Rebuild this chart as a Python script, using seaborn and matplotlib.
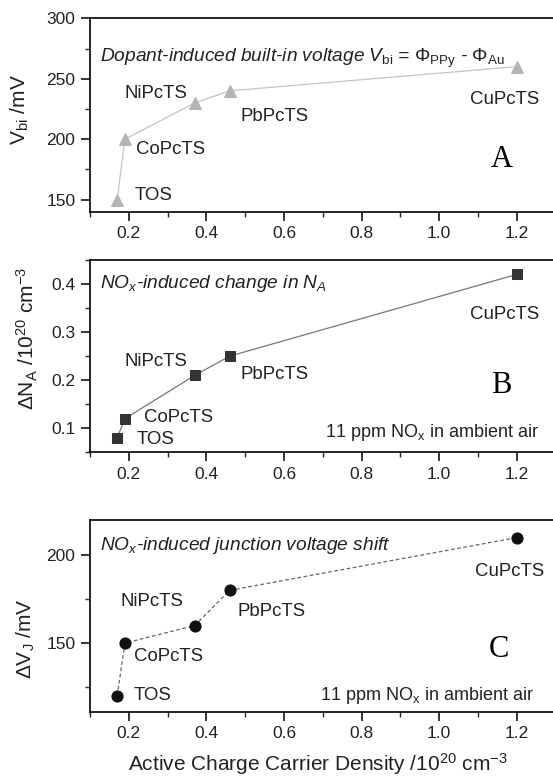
import matplotlib
matplotlib.use("Agg")
import matplotlib.pyplot as plt
import seaborn as sns
import pandas as pd
from matplotlib.ticker import MultipleLocator

sns.set_theme(style="ticks")
plt.rcParams['font.family'] = ['Liberation Sans', 'DejaVu Sans']
plt.rcParams['mathtext.fontset'] = 'custom'
plt.rcParams['mathtext.rm'] = 'Liberation Sans'
plt.rcParams['mathtext.it'] = 'Liberation Sans:italic'
plt.rcParams['mathtext.bf'] = 'Liberation Sans:bold'

# ---- data ----
dopants = ["TOS", "CoPcTS", "NiPcTS", "PbPcTS", "CuPcTS"]
carrier_density = [0.17, 0.19, 0.37, 0.46, 1.20]
v_bi = [150, 200, 230, 240, 260]
delta_na = [0.08, 0.12, 0.21, 0.25, 0.42]
delta_vj = [120, 150, 160, 180, 210]

df = pd.DataFrame({"dopant": dopants, "x": carrier_density,
                   "vbi": v_bi, "dna": delta_na, "dvj": delta_vj})

W, H = 553, 779
fig = plt.figure(figsize=(W / 100, H / 100), dpi=100)

def ax_at(left, top, right, bottom):
    return fig.add_axes([left / W, 1 - bottom / H, (right - left) / W, (bottom - top) / H])

axA = ax_at(90, 18.3, 555.5, 211.7)
axB = ax_at(90, 260, 555.5, 452.3)
axC = ax_at(90, 520, 555.5, 711.7)

txt = "#222222"

sns.lineplot(data=df, x="x", y="vbi", ax=axA, sort=False, estimator=None,
             color="#c4c4c4", lw=0.9, marker="^", markersize=9,
             markerfacecolor="#b4b4b4", markeredgecolor="#b4b4b4")
sns.lineplot(data=df, x="x", y="dna", ax=axB, sort=False, estimator=None,
             color="#777777", lw=0.9, marker="s", markersize=7.5,
             markerfacecolor="#333333", markeredgecolor="#333333")
sns.lineplot(data=df, x="x", y="dvj", ax=axC, sort=False, estimator=None,
             color="#666666", lw=0.9, ls=(0, (3, 2)), marker="o", markersize=8,
             markerfacecolor="#111111", markeredgecolor="#111111")

for ax in (axA, axB, axC):
    ax.set_xlim(0.1, 1.3)
    ax.xaxis.set_minor_locator(MultipleLocator(0.1))
    ax.set_xticks([0.2, 0.4, 0.6, 0.8, 1.0, 1.2])
    ax.set_xticklabels(["0.2", "0.4", "0.6", "0.8", "1.0", "1.2"])
    ax.tick_params(which="major", direction="out", length=6.5, width=1.1,
                   labelsize=12.5, colors="black", labelcolor=txt, pad=4)
    ax.tick_params(which="minor", direction="out", length=3.5, width=1.0)
    for s in ax.spines.values():
        s.set_visible(True)
        s.set_linewidth(1.2)
        s.set_color("black")
    ax.set_xlabel("")

axA.set_ylim(140, 300)
axA.yaxis.set_major_locator(MultipleLocator(50))
axA.yaxis.set_minor_locator(MultipleLocator(25))
axB.set_ylim(0.05, 0.45)
axB.set_yticks([0.1, 0.2, 0.3, 0.4])
axB.yaxis.set_minor_locator(MultipleLocator(0.05))
axC.set_ylim(111, 220)
axC.set_yticks([150, 200])
axC.set_yticks([125, 175], minor=True)

lfs = 15
axA.set_ylabel(r"V$_{\rm bi}$ /mV", fontsize=lfs, color=txt)
axA.yaxis.set_label_coords(-0.127, 0.526)
axB.set_ylabel(r"ΔN$_{\rm A}$ /10$^{20}$ cm$^{-3}$", fontsize=lfs, color=txt)
axB.yaxis.set_label_coords(-0.108, 0.593)
axC.set_ylabel(r"ΔV$_{\rm J}$ /mV", fontsize=lfs, color=txt)
axC.yaxis.set_label_coords(-0.114, 0.383)
axC.set_xlabel(r"Active Charge Carrier Density /10$^{20}$ cm$^{-3}$", fontsize=lfs, color=txt)
axC.xaxis.set_label_coords(0.49, -0.206)

fs = 13.4
sfs = 13
lfam = ["Liberation Serif", "DejaVu Serif"]
# panel A
labA = {"NiPcTS": (0.188, 238.1), "PbPcTS": (0.488, 218.8), "CoPcTS": (0.219, 191.3),
        "TOS": (0.215, 153.6), "CuPcTS": (1.079, 232.6)}
for k, (x, y) in labA.items():
    axA.text(x, y, k, fontsize=fs, color=txt, va="center", ha="left")
axA.text(0.126, 267, r"Dopant-induced built-in voltage $V_{\rm bi}$ = $\Phi_{\rm PPy}$ - $\Phi_{\rm Au}$",
         fontsize=13.8, style="italic", color=txt, va="center", ha="left")
axA.text(1.161, 183, "A", fontsize=22, family=lfam, color="black", va="center", ha="center")

# panel B
labB = {"NiPcTS": (0.188, 0.239), "PbPcTS": (0.488, 0.212), "CoPcTS": (0.238, 0.122),
        "TOS": (0.219, 0.077), "CuPcTS": (1.079, 0.336)}
for k, (x, y) in labB.items():
    axB.text(x, y, k, fontsize=fs, color=txt, va="center", ha="left")
axB.text(0.126, 0.402, r"NO$_x$-induced change in N$_A$", fontsize=13.8, style="italic",
         color=txt, va="center", ha="left")
axB.text(0.705, 0.091, r"11 ppm NO$_{\rm x}$ in ambient air", fontsize=sfs, color=txt,
         va="center", ha="left")
axB.text(1.161, 0.188, "B", fontsize=22, family=lfam, color="black", va="center", ha="center")

# panel C
labC = {"NiPcTS": (0.178, 173.4), "PbPcTS": (0.479, 167.8), "CoPcTS": (0.213, 142.5),
        "TOS": (0.213, 120.4), "CuPcTS": (1.093, 190.8)}
for k, (x, y) in labC.items():
    axC.text(x, y, k, fontsize=fs, color=txt, va="center", ha="left")
axC.text(0.126, 205.3, r"NO$_x$-induced junction voltage shift", fontsize=13.8, style="italic",
         color=txt, va="center", ha="left")
axC.text(0.693, 120.4, r"11 ppm NO$_{\rm x}$ in ambient air", fontsize=sfs, color=txt,
         va="center", ha="left")
axC.text(1.153, 146.3, "C", fontsize=22, family=lfam, color="black", va="center", ha="center")

fig.savefig("out.png", dpi=100)
